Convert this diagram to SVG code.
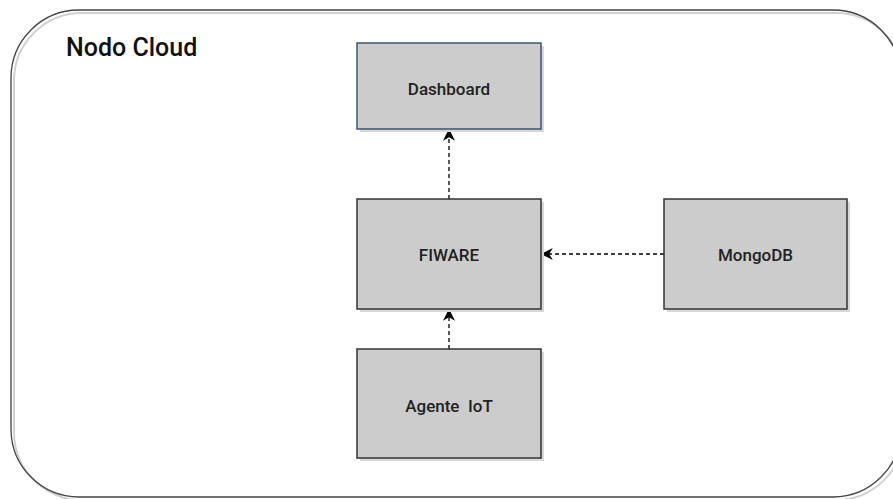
<svg xmlns="http://www.w3.org/2000/svg" width="893" height="499" viewBox="0 0 893 499">
<defs>
<marker id="arr" viewBox="0 0 10 10" refX="9" refY="5" markerWidth="12" markerHeight="12" markerUnits="userSpaceOnUse" orient="auto">
<path d="M0,0 L10,5 L0,10 L3,5 Z" fill="#000"/>
</marker>
</defs>
<style>
.shadow{fill:#d8d8d8;stroke:none}
.box{fill:#cccccc;stroke:#333333;stroke-width:1.5}
.lbl{font-family:Roboto,"Liberation Sans",sans-serif;font-size:17px;font-weight:500;fill:#222;text-anchor:middle;white-space:pre}
.edge{fill:none;stroke:#000;stroke-width:1.3;stroke-dasharray:4 3;marker-end:url(#arr)}
</style>
<rect width="893" height="499" fill="#fff"/>
<g id="cloud">
<rect x="14" y="13" width="890" height="487" rx="68" ry="68" fill="none" stroke="#d0d0d0" stroke-width="2"/>
<rect x="11" y="10" width="890" height="487" rx="68" ry="68" fill="none" stroke="#444" stroke-width="1.3"/>
<text x="66" y="56" font-family="Roboto, 'Liberation Sans', sans-serif" font-size="25" font-weight="500" fill="#111">Nodo Cloud</text>
</g>
<g id="edges">
<line class="edge" x1="449" y1="199" x2="449" y2="130"/>
<line class="edge" x1="664" y1="254" x2="542" y2="254"/>
<line class="edge" x1="449" y1="349" x2="449" y2="310"/>
</g>
<g id="dashboard">
<rect class="shadow" x="360" y="46" width="184" height="86"/>
<rect class="box" x="357" y="43" width="184" height="86" style="stroke:#3d546b"/>
<text class="lbl" x="449" y="95">Dashboard</text>
</g>
<g id="fiware">
<rect class="shadow" x="360" y="202" width="184" height="110"/>
<rect class="box" x="357" y="199" width="184" height="110"/>
<text class="lbl" x="449" y="261">FIWARE</text>
</g>
<g id="mongodb">
<rect class="shadow" x="667" y="202" width="183" height="110"/>
<rect class="box" x="664" y="199" width="183" height="110"/>
<text class="lbl" x="755.5" y="261">MongoDB</text>
</g>
<g id="agente">
<rect class="shadow" x="360" y="352" width="184" height="109"/>
<rect class="box" x="357" y="349" width="184" height="109"/>
<text class="lbl" x="449" y="412">Agente  IoT</text>
</g>
</svg>
